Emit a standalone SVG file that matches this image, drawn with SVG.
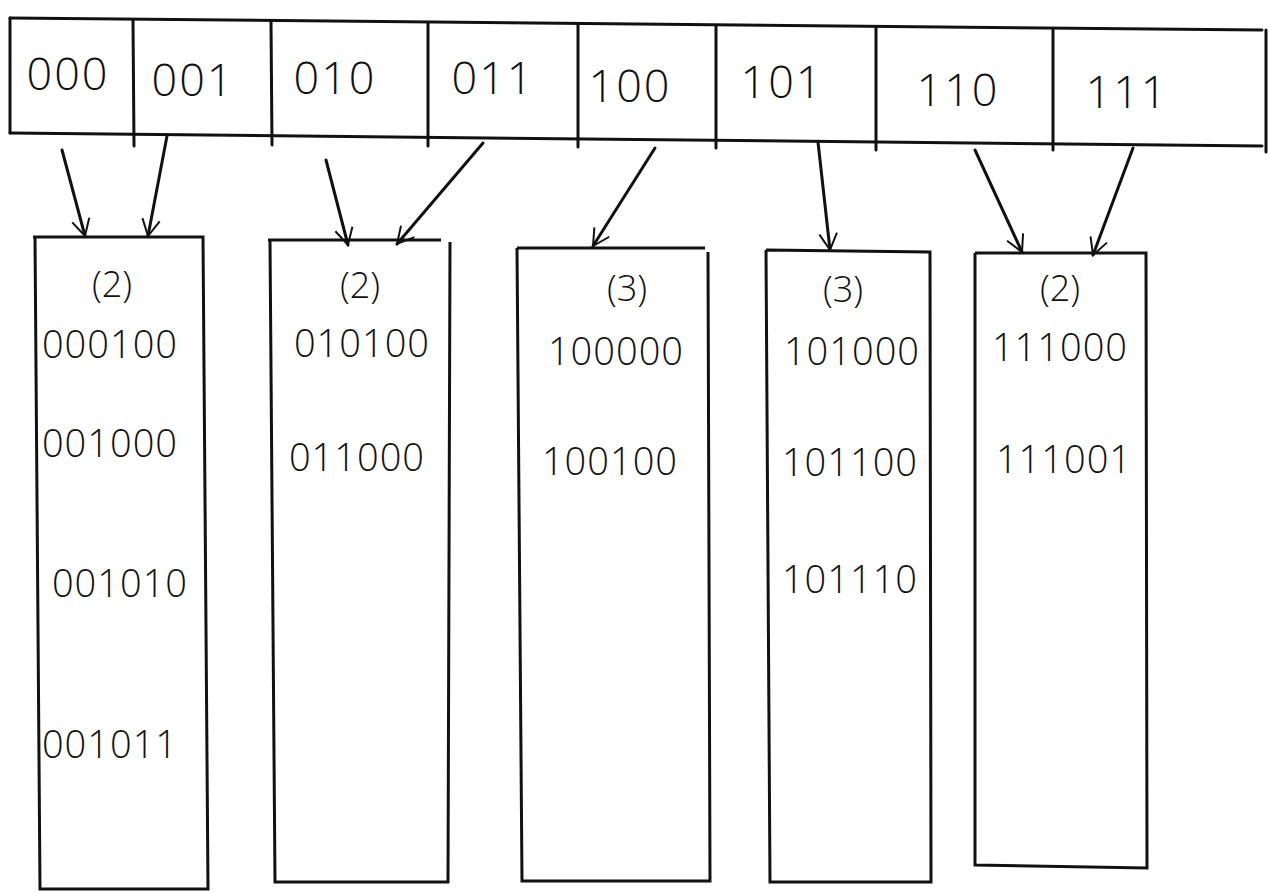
<svg xmlns="http://www.w3.org/2000/svg" width="1269" height="893" viewBox="0 0 1269 893">
  <style>
    .ln { stroke: #111; stroke-width: 3; fill: none; stroke-linecap: round; }
    .box { stroke: #111; stroke-width: 3; fill: none; }
    .t { font-family: "Open Sans", "Liberation Sans", sans-serif; font-weight: 300; fill: #111; text-anchor: middle; }
    .dir { font-size: 45px; letter-spacing: 2px; }
    .ent { font-size: 38px; letter-spacing: 1px; }
    .lbl { font-size: 36px; }
  </style>
  <defs>
    <marker id="vee" viewBox="0 0 20 20" refX="18" refY="10" markerWidth="22" markerHeight="22" markerUnits="userSpaceOnUse" orient="auto">
      <path d="M3,2 L18,10 L3,18" fill="none" stroke="#111" stroke-width="1.8"/>
    </marker>
  </defs>
  <rect width="1269" height="893" fill="#fff"/>

  <!-- directory with 8 slots -->
  <g id="directory">
    <path class="ln" d="M10,18 L1262,30"/>
    <path class="ln" d="M10,133 L1262,146"/>
    <path class="ln" d="M10,18 L10,133"/>
    <path class="ln" d="M133,20 L134,146"/>
    <path class="ln" d="M271,22 L272,145"/>
    <path class="ln" d="M428,23 L428,146"/>
    <path class="ln" d="M578,25 L578,147"/>
    <path class="ln" d="M716,26 L716,148"/>
    <path class="ln" d="M876,28 L876,150"/>
    <path class="ln" d="M1053,30 L1053,150"/>
    <path class="ln" d="M1266,30 L1266,152"/>
    <text class="t dir" x="68" y="90">000</text>
    <text class="t dir" x="193" y="96">001</text>
    <text class="t dir" x="335" y="94">010</text>
    <text class="t dir" x="493" y="94">011</text>
    <text class="t dir" x="630" y="102">100</text>
    <text class="t dir" x="782" y="98">101</text>
    <text class="t dir" x="958" y="106">110</text>
    <text class="t dir" x="1127" y="108">111</text>
  </g>

  <!-- bucket 000/001 -->
  <g id="bucket-00">
    <path class="box" d="M33,237 L203,237 L208,889 L40,889 L35,237"/>
    <text class="t lbl" x="112" y="297">(2)</text>
    <text class="t ent" x="110" y="358">000100</text>
    <text class="t ent" x="110" y="457">001000</text>
    <text class="t ent" x="120" y="597">001010</text>
    <text class="t ent" x="110" y="758">001011</text>
  </g>

  <!-- bucket 010/011 -->
  <g id="bucket-01">
    <path class="box" d="M268,240 L441,240 M450,242 L448,882 L275,882 L270,240"/>
    <text class="t lbl" x="360" y="298">(2)</text>
    <text class="t ent" x="362" y="357">010100</text>
    <text class="t ent" x="357" y="471">011000</text>
  </g>

  <!-- bucket 100 -->
  <g id="bucket-100">
    <path class="box" d="M517,248 L705,248 M708,252 L710,881 L522,881 L517,248"/>
    <text class="t lbl" x="627" y="301">(3)</text>
    <text class="t ent" x="616" y="365">100000</text>
    <text class="t ent" x="610" y="475">100100</text>
  </g>

  <!-- bucket 101 -->
  <g id="bucket-101">
    <path class="box" d="M766,250 L930,252 L931,882 L770,882 L766,250"/>
    <text class="t lbl" x="843" y="302">(3)</text>
    <text class="t ent" x="852" y="365">101000</text>
    <text class="t ent" x="850" y="476">101100</text>
    <text class="t ent" x="850" y="593">101110</text>
  </g>

  <!-- bucket 110/111 -->
  <g id="bucket-11">
    <path class="box" d="M975,253 L1146,253 L1147,868 L975,865 L975,253"/>
    <text class="t lbl" x="1060" y="301">(2)</text>
    <text class="t ent" x="1060" y="361">111000</text>
    <text class="t ent" x="1064" y="473">111001</text>
  </g>

  <!-- directory pointers -->
  <g id="connectors">
    <path class="ln" d="M62,150 L85,236" marker-end="url(#vee)"/>
    <path class="ln" d="M167,136 L148,236" marker-end="url(#vee)"/>
    <path class="ln" d="M326,160 L348,245" marker-end="url(#vee)"/>
    <path class="ln" d="M483,143 L397,244" marker-end="url(#vee)"/>
    <path class="ln" d="M655,148 L593,246" marker-end="url(#vee)"/>
    <path class="ln" d="M818,142 L830,250" marker-end="url(#vee)"/>
    <path class="ln" d="M975,150 L1022,252" marker-end="url(#vee)"/>
    <path class="ln" d="M1133,148 L1093,255" marker-end="url(#vee)"/>
  </g>
</svg>
